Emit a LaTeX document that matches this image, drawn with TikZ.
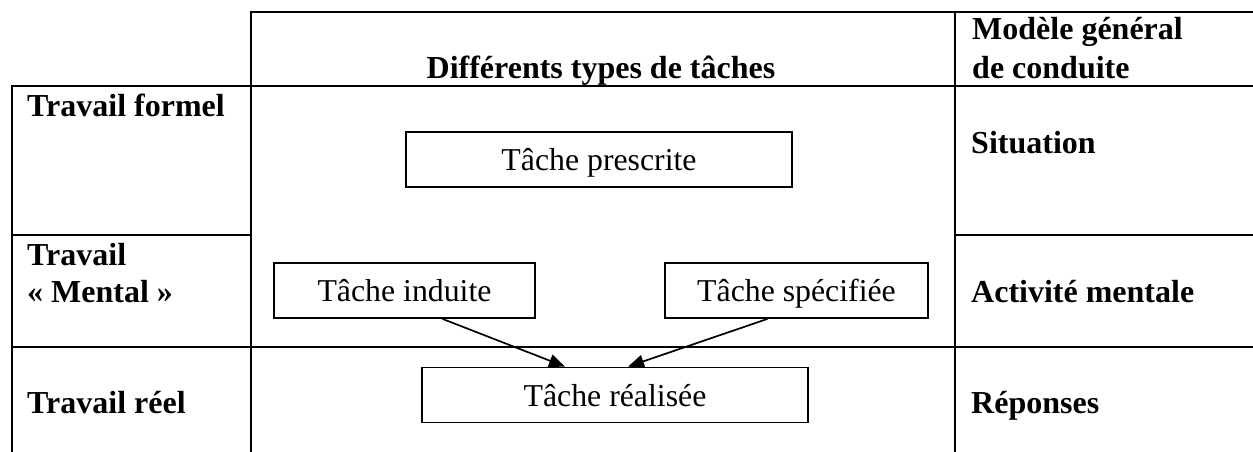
\documentclass[tikz,border=0pt]{standalone}
\usepackage{fontspec}
\setmainfont{Liberation Serif}
\usetikzlibrary{arrows.meta}
\begin{document}
\begin{tikzpicture}[x=1pt,y=-1pt,
  grid/.style={line width=1.7pt},
  taskbox/.style={draw,line width=1.8pt,inner sep=0pt,minimum height=55pt,
    text height=22pt,text depth=0pt,font=\fontsize{31.8}{37}\selectfont},
  head/.style={anchor=base west,inner sep=0pt,align=left,
    font=\fontsize{32}{38}\selectfont\bfseries},
  flow/.style={line width=1.7pt,-{Triangle[length=16pt,width=13pt]}}]
\useasboundingbox (0,0) rectangle (1253,452);

% table rules
\draw[grid] (251,452) -- (251,12) -- (1253,12);
\draw[grid] (955,12) -- (955,452);
\draw[grid] (12,452) -- (12,86) -- (1253,86);
\draw[grid] (12,235) -- (251,235);
\draw[grid] (955,235) -- (1253,235);
\draw[grid] (12,347) -- (1253,347);

% column and row headings (base = last line of the node)
\node[head,anchor=base] (colTypes) at (601,78) {Différents types de tâches};
\node[head] (colModele) at (972,78) {Modèle général\\[1pt]de conduite};
\node[head] (rowFormel) at (27,117) {Travail formel};
\node[head] (rowMental) at (27,302) {Travail\\[-1pt]« Mental »};
\node[head] (rowReel) at (27,413) {Travail réel};
\node[head] (situation) at (971,153) {Situation};
\node[head] (activite) at (971,302) {Activité mentale};
\node[head] (reponses) at (971,413) {Réponses};

% task boxes
\node[taskbox,minimum width=386pt] (prescrite) at (599,159.5) {Tâche prescrite};
\node[taskbox,minimum width=261pt] (induite) at (404.5,290.5) {Tâche induite};
\node[taskbox,minimum width=263pt] (specifiee) at (796.5,290.5) {Tâche spécifiée};
\node[taskbox,minimum width=386pt] (realisee) at (615,395) {Tâche réalisée};

% arrows into the realised task
\draw[flow] ([xshift=38pt]induite.south) -- ([xshift=-50pt]realisee.north);
\draw[flow] ([xshift=-29pt]specifiee.south) -- ([xshift=13pt]realisee.north);
\end{tikzpicture}
\end{document}
